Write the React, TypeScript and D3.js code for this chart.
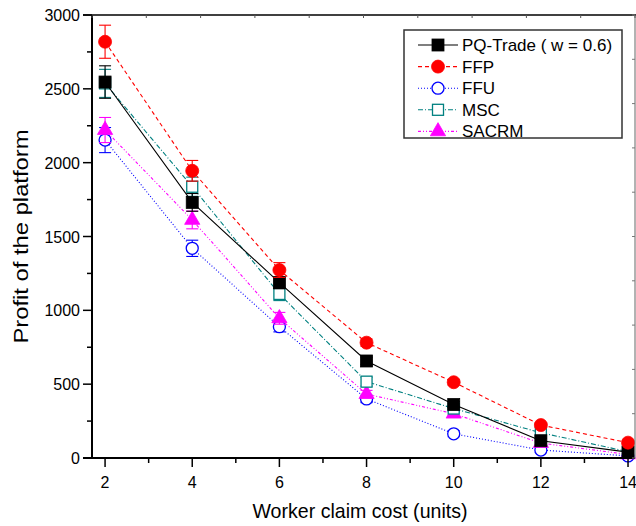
import React from "react";
import * as d3 from "d3";

const xValues = [2, 4, 6, 8, 10, 12, 14];
const xTicks = [2, 4, 6, 8, 10, 12, 14];
const yTicks = [0, 500, 1000, 1500, 2000, 2500, 3000];

const pqTrade = [2546, 1731, 1187, 657, 362, 117, 40];
const pqTradeErr = [110, 60, 40, 25, 20, 15, 10];
const ffp = [2819, 1945, 1273, 781, 513, 223, 104];
const ffpErr = [112, 70, 50, 25, 20, 15, 10];
const ffu = [2153, 1420, 889, 400, 164, 54, 14];
const ffuErr = [85, 55, 35, 25, 20, 15, 10];
const msc = [2537, 1837, 1111, 517, 335, 171, 43];
const mscErr = [95, 65, 45, 30, 20, 15, 10];
const sacrm = [2221, 1612, 946, 433, 300, 101, 24];
const sacrmErr = [85, 60, 40, 25, 20, 15, 10];

type Marker = "square" | "circle" | "triangle";
interface Series {
  name: string;
  values: number[];
  errors: number[];
  color: string;
  dash: string;
  marker: Marker;
  filled: boolean;
}

const series: Series[] = [
  { name: "PQ-Trade ( w = 0.6)", values: pqTrade, errors: pqTradeErr, color: "#000000", dash: "", marker: "square", filled: true },
  { name: "FFP", values: ffp, errors: ffpErr, color: "#ff0000", dash: "4,3", marker: "circle", filled: true },
  { name: "FFU", values: ffu, errors: ffuErr, color: "#0000ff", dash: "1,2", marker: "circle", filled: false },
  { name: "MSC", values: msc, errors: mscErr, color: "#008080", dash: "5,2,1,2", marker: "square", filled: false },
  { name: "SACRM", values: sacrm, errors: sacrmErr, color: "#ff00ff", dash: "3,2,1,2,1,2", marker: "triangle", filled: true },
];

// draw order: later entries sit on top
const drawOrder = [2, 4, 3, 0, 1];

const W = 636;
const H = 526;
const left = 92;
const right = 635;
const top = 15;
const bottom = 458;

const x = d3.scaleLinear().domain([1.7, 14.16]).range([left, right]);
const y = d3.scaleLinear().domain([0, 3000]).range([bottom, top]);

const font = "Arial, 'Liberation Sans', sans-serif";

function MarkerShape({ s, cx, cy }: { s: Series; cx: number; cy: number }) {
  const fill = s.filled ? s.color : "#ffffff";
  const sw = s.filled ? 0.8 : 1.3;
  if (s.marker === "square") {
    const h = s.filled ? 6 : 5.5;
    return <rect x={cx - h} y={cy - h} width={2 * h} height={2 * h} fill={fill} stroke={s.color} strokeWidth={sw} />;
  }
  if (s.marker === "circle") {
    const r = s.filled ? 6.5 : 6;
    return <circle cx={cx} cy={cy} r={r} fill={fill} stroke={s.color} strokeWidth={sw} />;
  }
  const sym = d3.symbol().type(d3.symbolTriangle).size(100)();
  return <path d={sym || ""} transform={`translate(${cx},${cy})`} fill={fill} stroke={s.color} strokeWidth={sw} />;
}

export default function App() {
  const line = d3
    .line<number>()
    .x((_, i) => x(xValues[i]))
    .y((v) => y(v));

  const xMinor = d3.range(2, 15, 1).filter((v) => v % 2 === 1);
  const yMinor = d3.range(250, 3000, 500);
  const topTicks = d3.range(0, 11).map((i) => left + ((right - left) * i) / 10);
  const rightTicks = d3.range(0, 11).map((i) => top + ((bottom - top) * i) / 10);

  const legendX = 404;
  const legendY = 30;
  const rowH = 21.6;

  return (
    <svg width={W} height={H} style={{ position: "absolute", left: 0, top: 0, background: "#fff" }} fontFamily={font}>
      <rect width={W} height={H} fill="#fff" />

      {/* series lines, error bars and markers */}
      {drawOrder.map((si) => {
        const s = series[si];
        return (
          <g key={s.name}>
            <path d={line(s.values) || ""} fill="none" stroke={s.color} strokeWidth={1.1} strokeDasharray={s.dash} />
            {s.values.map((v, i) => {
              const cx = x(xValues[i]);
              const y1 = y(v + s.errors[i]);
              const y2 = y(v - s.errors[i]);
              return (
                <g key={i} stroke={s.color} strokeWidth={1.1}>
                  <line x1={cx} x2={cx} y1={y1} y2={y2} />
                  <line x1={cx - 6} x2={cx + 6} y1={y1} y2={y1} />
                  <line x1={cx - 6} x2={cx + 6} y1={y2} y2={y2} />
                </g>
              );
            })}
            {s.values.map((v, i) => (
              <MarkerShape key={"m" + i} s={s} cx={x(xValues[i])} cy={y(v)} />
            ))}
          </g>
        );
      })}

      {/* frame */}
      <g stroke="#000" fill="none">
        <line x1={83} x2={right} y1={bottom} y2={bottom} strokeWidth={2} />
        <line x1={left} x2={left} y1={top} y2={bottom + 1} strokeWidth={2} />
        <line x1={83} x2={W} y1={top} y2={top} strokeWidth={1.3} />
        <line x1={right} x2={right} y1={top} y2={bottom} strokeWidth={1} stroke="#666" />
        {topTicks.map((t, i) => (
          <line key={"tt" + i} x1={t} x2={t} y1={top} y2={top + 3} strokeWidth={1} stroke="#555" />
        ))}
        {rightTicks.map((t, i) => (
          <line key={"rt" + i} x1={right} x2={right - 3} y1={t} y2={t} strokeWidth={1} stroke="#777" />
        ))}
        {xTicks.map((t) => (
          <line key={"xt" + t} x1={x(t)} x2={x(t)} y1={bottom} y2={bottom + 9} strokeWidth={1.5} />
        ))}
        {xMinor.map((t) => (
          <line key={"xm" + t} x1={x(t)} x2={x(t)} y1={bottom} y2={bottom + 5} strokeWidth={1.5} />
        ))}
        {yTicks.map((t) => (
          <line key={"yt" + t} x1={left} x2={left - 9} y1={y(t)} y2={y(t)} strokeWidth={1.5} />
        ))}
        {yMinor.map((t) => (
          <line key={"ym" + t} x1={left} x2={left - 5} y1={y(t)} y2={y(t)} strokeWidth={1.5} />
        ))}
      </g>

      {/* tick labels */}
      <g fontSize={16} fill="#000">
        {xTicks.map((t) => (
          <text key={"xl" + t} x={x(t)} y={bottom + 30} textAnchor="middle">
            {t}
          </text>
        ))}
        {yTicks.map((t) => (
          <text key={"yl" + t} x={left - 12} y={y(t) + 6} textAnchor="end">
            {t}
          </text>
        ))}
      </g>

      {/* axis titles */}
      <text x={360} y={518} textAnchor="middle" fontSize={21} textLength={215} lengthAdjust="spacingAndGlyphs">
        Worker claim cost (units)
      </text>
      <text
        transform={`translate(28,${(top + bottom) / 2}) rotate(-90)`}
        textAnchor="middle"
        fontSize={21}
        textLength={214}
        lengthAdjust="spacingAndGlyphs"
      >
        Profit of the platform
      </text>

      {/* legend */}
      <rect x={legendX} y={legendY} width={218} height={108} fill="#fff" stroke="#333" strokeWidth={1.5} />
      {series.map((s, i) => {
        const cy = legendY + 15 + i * rowH;
        return (
          <g key={"lg" + s.name}>
            <line x1={418} x2={458} y1={cy} y2={cy} stroke={s.color} strokeWidth={1.1} strokeDasharray={s.dash} />
            <MarkerShape s={s} cx={438} cy={cy} />
            <text x={462} y={cy + 6} fontSize={17}>
              {s.name}
            </text>
          </g>
        );
      })}
    </svg>
  );
}
